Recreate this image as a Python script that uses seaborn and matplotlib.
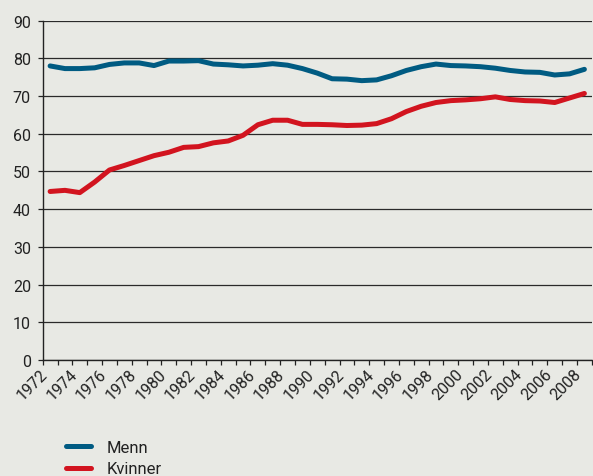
import numpy as np
import pandas as pd
import matplotlib
matplotlib.use("Agg")
import matplotlib.pyplot as plt
import seaborn as sns

# data
years = list(range(1972, 2009))
menn = [78.0, 77.3, 77.3, 77.5, 78.4, 78.8, 78.8, 78.1, 79.3, 79.3,
        79.4, 78.5, 78.3, 78.0, 78.2, 78.6, 78.2, 77.3, 76.1, 74.6,
        74.5, 74.1, 74.3, 75.4, 76.8, 77.8, 78.5, 78.1, 78.0, 77.8,
        77.4, 76.8, 76.4, 76.3, 75.6, 75.9, 77.1]
kvinner = [44.7, 45.0, 44.4, 47.2, 50.4, 51.6, 52.9, 54.2, 55.1, 56.4,
           56.6, 57.6, 58.1, 59.6, 62.4, 63.6, 63.6, 62.5, 62.5, 62.4,
           62.2, 62.3, 62.7, 64.0, 65.9, 67.3, 68.3, 68.8, 69.0, 69.3,
           69.8, 69.1, 68.8, 68.7, 68.3, 69.5, 70.7]
series = ["Menn", "Kvinner"]
colors = ["#005b82", "#d2141f"]
yticks = list(range(0, 100, 10))

df = pd.DataFrame({"År": years * 2,
                   "Verdi": menn + kvinner,
                   "Gruppe": ["Menn"] * len(years) + ["Kvinner"] * len(years)})

bg = "#e8e9e4"
sns.set_style("ticks")
plt.rcParams['font.family'] = ['Roboto', 'DejaVu Sans']

fig = plt.figure(figsize=(5.93, 4.77), dpi=100, facecolor=bg)
ax = fig.add_axes([0.072, 0.2432, 0.926, 0.7113])
ax.set_facecolor(bg)

sns.lineplot(data=df, x="År", y="Verdi", hue="Gruppe", hue_order=series,
             palette=colors, linewidth=3.6, ax=ax, legend=False,
             solid_capstyle="round", solid_joinstyle="round", zorder=3)

ax.set_xlim(years[0] - 0.5, years[-1] + 0.5)
ax.set_ylim(0, 90)
ax.set_yticks(yticks)
ax.yaxis.grid(True, color="#2a2a2a", linewidth=0.9)
ax.set_axisbelow(True)

# labels at category centres, ticks on category boundaries
ax.set_xticks(years[::2], [str(y) for y in years[::2]])
ax.set_xticks([y - 0.5 for y in years] + [years[-1] + 0.5], minor=True)
ax.tick_params(axis="x", which="major", length=0, pad=12, labelsize=11.5,
               labelcolor="#222222")
ax.tick_params(axis="x", which="minor", length=3.5, width=0.9, color="#222222")
ax.tick_params(axis="y", length=3.5, width=0.9, color="#222222", pad=5,
               labelsize=11.5, labelcolor="#222222")
plt.setp(ax.get_xticklabels(), rotation=45, ha="right", va="bottom",
         rotation_mode="anchor")

ax.set_xlabel("")
ax.set_ylabel("")
sns.despine(ax=ax, top=True, right=True)
for s in ["left", "bottom"]:
    ax.spines[s].set_color("#222222")
    ax.spines[s].set_linewidth(1.0)

handles = [plt.Line2D([], [], color=c, linewidth=3.6, solid_capstyle="round")
           for c in colors]
fig.legend(handles, series, loc="upper left", bbox_to_anchor=(0.111, 0.076),
           frameon=False, fontsize=12, handlelength=1.5, handletextpad=0.95,
           labelspacing=0.4, borderaxespad=0, borderpad=0,
           labelcolor="#222222")

fig.savefig("out.png", dpi=100, facecolor=bg)
